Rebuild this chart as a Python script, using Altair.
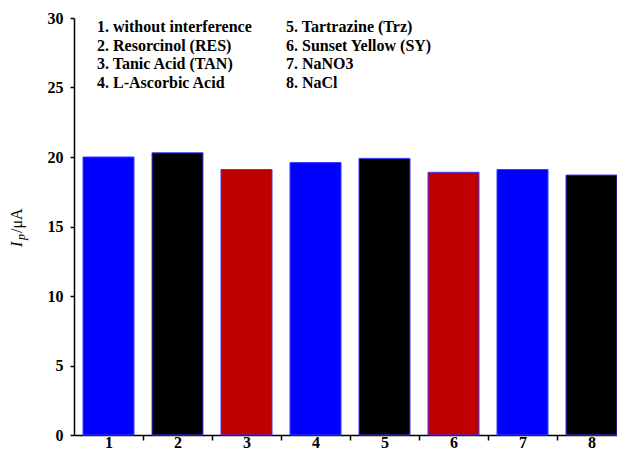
import altair as alt
import pandas as pd

# Data
positions = [1, 2, 3, 4, 5, 6, 7, 8]
currents = [20.0, 20.3, 19.1, 19.6, 19.9, 18.9, 19.1, 18.7]
bar_colors = ["#0000ff", "#000000", "#c00000", "#0000ff",
              "#000000", "#c00000", "#0000ff", "#000000"]
legend_left = ["1. without interference", "2. Resorcinol (RES)",
               "3. Tanic Acid (TAN)", "4. L-Ascorbic Acid"]
legend_right = ["5. Tartrazine (Trz)", "6. Sunset Yellow  (SY)",
                "7. NaNO3", "8. NaCl"]
y_ticks = [0, 5, 10, 15, 20, 25, 30]
x_axis_values = [1, 1.5, 2, 2.5, 3, 3.5, 4, 4.5, 5, 5.5, 6, 6.5, 7, 7.5, 8]

df = pd.DataFrame({"pos": positions, "value": currents, "color": bar_colors})

FONT = "Liberation Serif"
W, H = 543, 417
BAND = 69

bars = alt.Chart(df).mark_bar(
    size=51, orient="vertical", stroke="#3a3aff", strokeWidth=1
).encode(
    x=alt.X(
        "pos:Q",
        scale=alt.Scale(domain=[0.5, 0.5 + W / BAND], nice=False, zero=False, padding=0),
        axis=alt.Axis(
            values=x_axis_values,
            labelExpr="datum.value % 1 === 0 ? format(datum.value, 'd') : ''",
            tickOpacity={"condition": {"test": "datum.value % 1 === 0", "value": 0}, "value": 1},
            labelOverlap=False,
            labelFlush=False,
            grid=False,
            tickSize=5,
            labelBaseline="alphabetic",
            labelPadding=7,
            title=None,
        ),
    ),
    y=alt.Y(
        "value:Q",
        stack=None,
        scale=alt.Scale(domain=[0, 30], nice=False, padding=0),
        axis=alt.Axis(values=y_ticks, grid=False, tickSize=4, labelPadding=7, title=None),
    ),
    color=alt.Color("color:N", scale=None),
)

one = alt.Data(values=[{}])

leg1 = alt.Chart(one).mark_text(
    text="\n".join(legend_left), lineBreak="\n", lineHeight=18.5,
    align="left", baseline="alphabetic", font=FONT, fontWeight="bold", fontSize=16,
    color="black",
).encode(x=alt.value(23), y=alt.value(14))

leg2 = alt.Chart(one).mark_text(
    text="\n".join(legend_right), lineBreak="\n", lineHeight=18.5,
    align="left", baseline="alphabetic", font=FONT, fontWeight="bold", fontSize=16,
    color="black",
).encode(x=alt.value(212), y=alt.value(14))

t_I = alt.Chart(one).mark_text(
    text="I", angle=270, align="left", baseline="middle", font=FONT,
    fontStyle="italic", fontSize=16, color="black",
).encode(x=alt.value(-57), y=alt.value(229))

t_p = alt.Chart(one).mark_text(
    text="p", angle=270, align="left", baseline="middle", font=FONT,
    fontStyle="italic", fontSize=12, color="black",
).encode(x=alt.value(-53), y=alt.value(222))

t_rest = alt.Chart(one).mark_text(
    text="/μA", angle=270, align="left", baseline="middle", font=FONT,
    fontSize=16, color="black",
).encode(x=alt.value(-57), y=alt.value(215))

chart = alt.layer(bars, leg1, leg2, t_I, t_p, t_rest).properties(
    width=W,
    height=H,
    padding={"left": 66, "top": 10, "right": 0, "bottom": 16},
    autosize=alt.AutoSizeParams(type="none"),
).configure_view(stroke=None).configure_axis(
    domainColor="black", domainWidth=1.5, tickColor="black", tickWidth=1.5,
    labelFont=FONT, labelFontWeight="bold", labelFontSize=16, labelColor="black",
)

chart.save("out.html", embed_options={"renderer": "svg", "actions": False})
